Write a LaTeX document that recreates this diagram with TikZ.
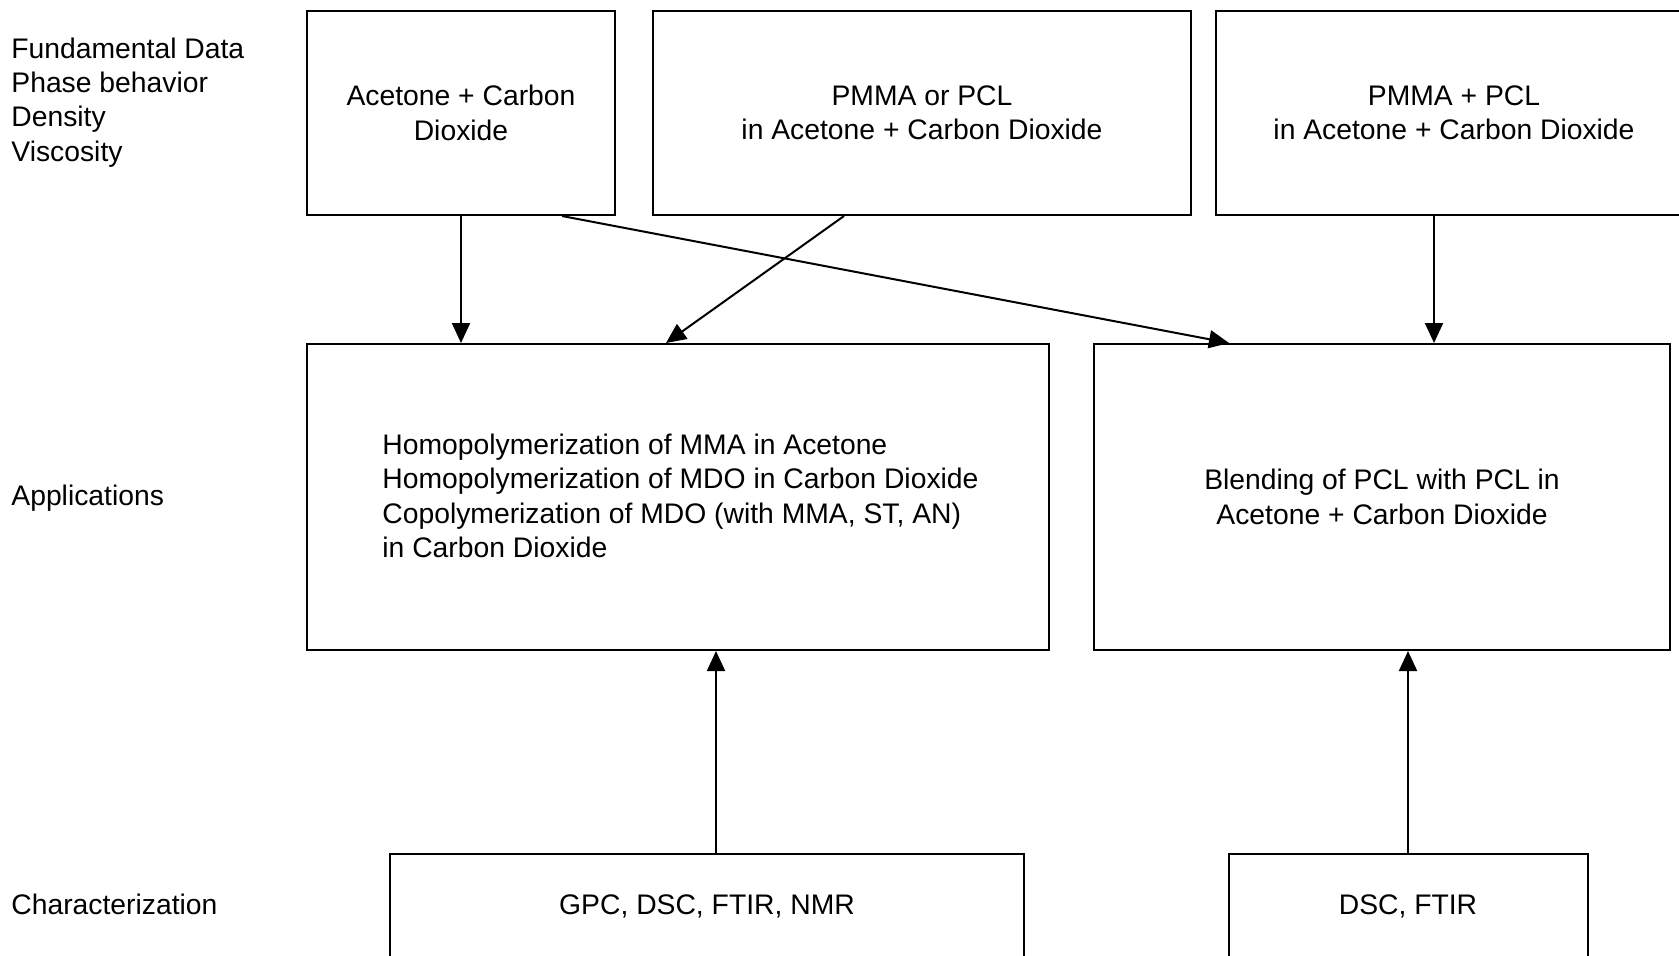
\documentclass[tikz,border=0pt]{standalone}
\usepackage{fontspec}
\setmainfont{Liberation Sans}
\usetikzlibrary{positioning,calc,arrows.meta}

\begin{document}
\begin{tikzpicture}[x=0.5pt,y=-0.5pt,
		box/.style={draw,line width=1pt,inner sep=0pt,align=center,font=\fontsize{14.15}{17.15}\selectfont},
		lbl/.style={inner sep=0pt,anchor=west,align=left,font=\fontsize{14.15}{17.15}\selectfont},
		arr/.style={line width=1pt,-{Triangle[length=10pt,width=9pt]}}]
		\clip (0,0) rectangle (1679,955);
		\useasboundingbox (0,0) rectangle (1679,955);

		% row labels
		\node[lbl] (fd)		at (11,102.5)	{Fundamental Data\\Phase behavior\\Density\\Viscosity};
		\node[lbl] (app)	at (11,498)		{Applications};
		\node[lbl] (char)	at (11,904)		{Characterization};

		% fundamental data
		\node[box,minimum width=154pt,minimum height=102pt] (1) at (461,113)	{Acetone + Carbon\\Dioxide};
		\node[box,minimum width=269pt,minimum height=102pt] (2) at (922,113)	{PMMA or PCL\\in Acetone + Carbon Dioxide};
		\node[box,minimum width=238pt,minimum height=102pt] (3) at (1454,113)	{PMMA + PCL\\in Acetone + Carbon Dioxide};

		% applications
		\node[box,minimum width=371pt,minimum height=153pt] (4) at (678,497)	{};
		\node[align=left,inner sep=0pt,font=\fontsize{14.15}{17.15}\selectfont,anchor=west] (4t) at (382,496)
			{Homopolymerization of MMA in Acetone\\Homopolymerization of MDO in Carbon Dioxide\\Copolymerization of MDO (with MMA, ST, AN)\\in Carbon Dioxide};
		\node[box,minimum width=288pt,minimum height=153pt] (5) at (1382,497)	{Blending of PCL with PCL in\\Acetone + Carbon Dioxide};

		% characterization
		\node[box,minimum width=317pt,minimum height=52pt] (6) at (707,906)	{GPC, DSC, FTIR, NMR};
		\node[box,minimum width=179.5pt,minimum height=52pt] (7) at (1408,906)	{DSC, FTIR};

		\draw[arr] (1.south) -- (1.south |- 4.north);
		\draw[arr] ($(1.south)+(101,0)$) -- ($(5.north)+(-153,0)$);
		\draw[arr] ($(2.south)+(-78,0)$) -- ($(4.north)+(-12,0)$);
		\draw[arr] ($(3.south)+(-20,0)$) -- ($(5.north)+(52,0)$);
		\draw[arr] ($(6.north)+(9,0)$) -- ($(4.south)+(38,0)$);
		\draw[arr] (7.north) -- (7.north |- 5.south);
	\end{tikzpicture}
\end{document}
